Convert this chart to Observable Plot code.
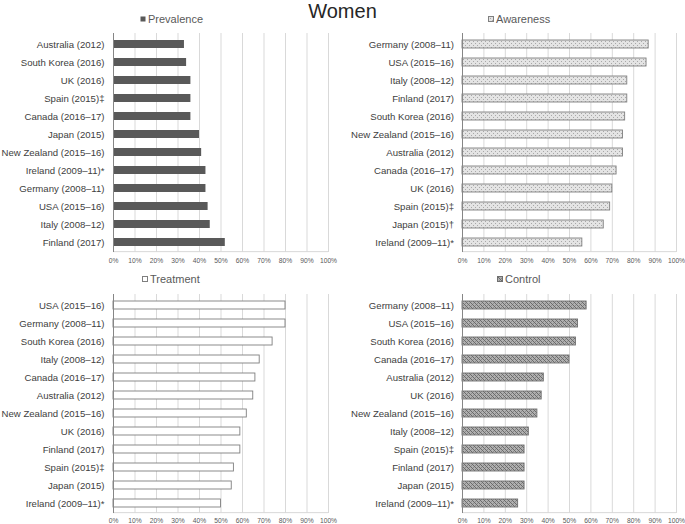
<!DOCTYPE html>
<html><head><meta charset="utf-8">
<script src="https://cdn.jsdelivr.net/npm/d3@7"></script>
<script src="https://cdn.jsdelivr.net/npm/@observablehq/plot@0.6"></script>
<style>
body{margin:0;background:#fff;font-family:"Liberation Sans",Arial,sans-serif;}
#root{position:relative;width:685px;height:524px;overflow:hidden;background:#fff;}
.panel{position:absolute;}
.legend{position:absolute;display:flex;align-items:center;font-size:11px;color:#595959;height:14px;line-height:14px;white-space:nowrap;}
.legend svg{margin-right:2px;display:block;}
#title{position:absolute;left:0;width:685px;text-align:center;top:1px;font-size:20px;line-height:20px;color:#262626;}
</style></head><body>
<svg width="0" height="0" style="position:absolute">
<defs>
<pattern id="pAware" width="4" height="4" patternUnits="userSpaceOnUse">
<rect width="4" height="4" fill="#e4e4e4"/>
<rect x="0" y="0" width="1" height="1" fill="#a8a8a8"/>
<rect x="2" y="2" width="1" height="1" fill="#a8a8a8"/>
</pattern>
<pattern id="pControl" width="4" height="4" patternUnits="userSpaceOnUse">
<rect width="4" height="4" fill="#b0b0b0"/>
<rect x="0" y="0" width="1" height="1" fill="#6a6a6a"/>
<rect x="1" y="1" width="1" height="1" fill="#6a6a6a"/>
<rect x="2" y="2" width="1" height="1" fill="#6a6a6a"/>
<rect x="3" y="3" width="1" height="1" fill="#6a6a6a"/>
<rect x="2" y="0" width="1" height="1" fill="#8a8a8a"/>
<rect x="0" y="2" width="1" height="1" fill="#8a8a8a"/>
</pattern>
</defs></svg>
<div id="root">
  <div id="title">Women</div>
</div>
<script>
// ---- data ----
const xTicks = [0, 10, 20, 30, 40, 50, 60, 70, 80, 90, 100];

const prevalenceCountries = ["Australia (2012)", "South Korea (2016)", "UK (2016)", "Spain (2015)‡", "Canada (2016–17)", "Japan (2015)", "New Zealand (2015–16)", "Ireland (2009–11)*", "Germany (2008–11)", "USA (2015–16)", "Italy (2008–12)", "Finland (2017)"];
const prevalenceValues = [33, 34, 36, 36, 36, 40, 41, 43, 43, 44, 45, 52];

const awarenessCountries = ["Germany (2008–11)", "USA (2015–16)", "Italy (2008–12)", "Finland (2017)", "South Korea (2016)", "New Zealand (2015–16)", "Australia (2012)", "Canada (2016–17)", "UK (2016)", "Spain (2015)‡", "Japan (2015)†", "Ireland (2009–11)*"];
const awarenessValues = [87, 86, 77, 77, 76, 75, 75, 72, 70, 69, 66, 56];

const treatmentCountries = ["USA (2015–16)", "Germany (2008–11)", "South Korea (2016)", "Italy (2008–12)", "Canada (2016–17)", "Australia (2012)", "New Zealand (2015–16)", "UK (2016)", "Finland (2017)", "Spain (2015)‡", "Japan (2015)", "Ireland (2009–11)*"];
const treatmentValues = [80, 80, 74, 68, 66, 65, 62, 59, 59, 56, 55, 50];

const controlCountries = ["Germany (2008–11)", "USA (2015–16)", "South Korea (2016)", "Canada (2016–17)", "Australia (2012)", "UK (2016)", "New Zealand (2015–16)", "Italy (2008–12)", "Spain (2015)‡", "Finland (2017)", "Japan (2015)", "Ireland (2009–11)*"];
const controlValues = [58, 54, 53, 50, 38, 37, 35, 31, 29, 29, 29, 26];

// ---- drawing ----
const root = document.getElementById("root");
const FONT = "Liberation Sans, Arial, sans-serif";

function panel(o) {
  const data = o.countries.map((c, i) => ({c, v: o.values[i]}));
  const half = (o.height - o.mt - o.mb) / o.countries.length / 2;
  const p = Plot.plot({
    width: o.width, height: o.height,
    marginTop: o.mt, marginBottom: o.mb, marginLeft: o.ml, marginRight: o.mr,
    style: {background: "transparent", fontFamily: FONT, overflow: "visible"},
    x: {domain: [0, 100]},
    y: {domain: o.countries, paddingInner: 0.58, paddingOuter: 0.29},
    marks: [
      Plot.gridX(xTicks, {stroke: "#d9d9d9", strokeOpacity: 1}),
      Plot.ruleY([o.countries[o.countries.length - 1]], {dy: half, stroke: "#d9d9d9"}),
      Plot.barX(data, {x: "v", y: "c", fill: o.fill, stroke: o.stroke, strokeWidth: o.stroke === "none" ? 0 : 0.9}),
      Plot.ruleX([0], {stroke: "#868686"}),
      Plot.axisX(xTicks, {tickSize: 0, tickPadding: o.xpad, tickFormat: d => d + "%", fontSize: 6.7, color: "#595959", label: null}),
      Plot.axisY({tickSize: 0, tickPadding: o.ypad, fontSize: 9.6, color: "#404040", label: null})
    ]
  });
  p.classList.add("panel");
  p.style.left = o.left + "px";
  p.style.top = o.top + "px";
  root.appendChild(p);
}

function legend(label, x, y, fill, stroke) {
  const d = document.createElement("div");
  d.className = "legend";
  d.style.left = x + "px";
  d.style.top = (y - 7) + "px";
  d.innerHTML = `<svg width="6" height="6"><rect x="0.5" y="0.5" width="5" height="5" fill="${fill}" stroke="${stroke}" stroke-width="${stroke === 'none' ? 0 : 1}"/></svg><span>${label}</span>`;
  root.appendChild(d);
}

panel({countries: prevalenceCountries, values: prevalenceValues, fill: "#595959", stroke: "none",
  left: 0, top: 25, width: 345, height: 243, mt: 8, mb: 16, ml: 113, mr: 17, xpad: 5.5, ypad: 9});
panel({countries: awarenessCountries, values: awarenessValues, fill: "url(#pAware)", stroke: "#7f7f7f",
  left: 345, top: 25, width: 340, height: 243, mt: 8, mb: 16, ml: 117, mr: 9, xpad: 5.5, ypad: 8.5});
panel({countries: treatmentCountries, values: treatmentValues, fill: "#ffffff", stroke: "#7f7f7f",
  left: 0, top: 285, width: 345, height: 239, mt: 9, mb: 11, ml: 113, mr: 17, xpad: 4.5, ypad: 9});
panel({countries: controlCountries, values: controlValues, fill: "url(#pControl)", stroke: "#6f6f6f",
  left: 345, top: 285, width: 340, height: 239, mt: 9, mb: 11, ml: 117, mr: 9, xpad: 4.5, ypad: 8.5});

legend("Prevalence", 140, 18.5, "#595959", "none");
legend("Awareness", 488, 18.5, "url(#pAware)", "#7f7f7f");
legend("Treatment", 142, 279, "#ffffff", "#7f7f7f");
legend("Control", 497, 279, "url(#pControl)", "#6f6f6f");
</script>
</body></html>
